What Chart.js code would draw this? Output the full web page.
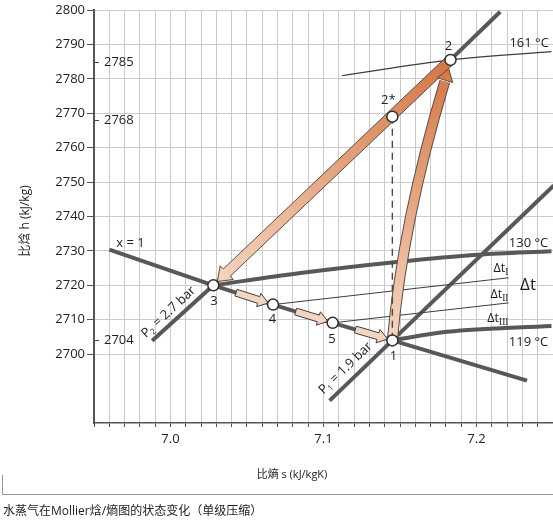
<!DOCTYPE html>
<html>
<head>
<meta charset="utf-8">
<script src="https://cdn.jsdelivr.net/npm/chart.js@4.4.1/dist/chart.umd.min.js"></script>
<style>
  html, body { margin: 0; padding: 0; background: #fff; }
  body { width: 553px; height: 524px; position: relative; overflow: hidden;
         font-family: "Open Sans", "Noto Sans CJK SC", sans-serif; }
  #wrap { position: absolute; left: 0; top: 0; width: 553px; height: 490px; }
  #frame { position: absolute; left: 2px; top: 475px; width: 551px; height: 19px;
           border-left: 1px solid #9a9a9a; border-bottom: 1px solid #9a9a9a; }
  #caption { position: absolute; left: 3px; top: 503px; font-size: 12px; line-height: 16px;
             color: #222; white-space: nowrap; }
</style>
</head>
<body>
<div id="wrap"><canvas id="c" width="553" height="490"></canvas></div>
<div id="frame"></div>
<div id="caption">水蒸气在Mollier焓/熵图的状态变化（单级压缩）</div>
<script>
// state points: entropy s (kJ/kgK), enthalpy h (kJ/kg)
const pointNames = ['1', '2', '2*', '3', '4', '5'];
const pointS = [7.145, 7.183, 7.145, 7.028, 7.067, 7.106];
const pointH = [2704, 2785.5, 2769, 2720, 2714.4, 2709.1];

// saturated vapour line x = 1
const satS = [6.96, 7.028, 7.067, 7.106, 7.145, 7.233];
const satH = [2730.4, 2720, 2714.4, 2709.1, 2704, 2692.3];

// isobars
const p2S = [6.988, 7.028, 7.183, 7.2155];
const p2H = [2703.9, 2720, 2785.5, 2799.5];
const p1S = [7.104, 7.145, 7.2505];
const p1H = [2686.5, 2704, 2749];

// isotherms
const t130S = [7.028, 7.085, 7.148, 7.201, 7.249];
const t130H = [2720, 2723.6, 2726.8, 2728.9, 2729.9];
const t119S = [7.145, 7.181, 7.249];
const t119H = [2704, 2706.5, 2708.2];
const t161S = [7.112, 7.183, 7.249];
const t161H = [2780.9, 2785.5, 2787.9];

// thin lines from points 4 and 5 (Δt)
const dt4S = [7.067, 7.221];
const dt4H = [2714.4, 2722.2];
const dt5S = [7.106, 7.221];
const dt5H = [2709.1, 2714.9];

// values marked on the h axis
const markedH = [2785, 2768, 2704];

const xTickLabels = ['7.0', '7.1', '7.2'];
const yTickLabels = ['2700', '2710', '2720', '2730', '2740', '2750', '2760', '2770', '2780', '2790', '2800'];

// free text, anchored in (s, h)
const notes = [
  { text: 'x = 1', s: 6.9739, h: 2732.2, align: 'center' },
  { text: '130 °C', s: 7.2469, h: 2732.2, align: 'right' },
  { text: '119 °C', s: 7.2469, h: 2703.4, align: 'right' },
  { text: '161 °C', s: 7.2473, h: 2790.3, align: 'right' }
];
const dtNotes = [
  { sub: 'I', s: 7.2209, h: 2724.8 },
  { sub: 'II', s: 7.2209, h: 2717.4 },
  { sub: 'III', s: 7.2209, h: 2710.3 }
];
const isobarNotes = [
  { sub: '2', rest: ' = 2.7 bar', s: 6.9987, h: 2712.2, angle: -43 },
  { sub: '1', rest: ' = 1.9 bar', s: 7.1144, h: 2695.9, angle: -44 }
];

const FONT = '"Open Sans", "Noto Sans CJK SC", sans-serif';
const DARK = '#585858';

function xy(sArr, hArr) {
  return sArr.map((s, i) => ({ x: s, y: hArr[i] }));
}

function line(sArr, hArr, w, color, smooth) {
  return {
    data: xy(sArr, hArr), showLine: true, pointRadius: 0,
    borderColor: color, borderWidth: w,
    tension: smooth ? 0.4 : 0, cubicInterpolationMode: smooth ? 'monotone' : 'default',
    borderCapStyle: 'butt'
  };
}

function P(chart, i) {
  return [chart.scales.x.getPixelForValue(pointS[i]), chart.scales.y.getPixelForValue(pointH[i])];
}

function blockArrow(ctx, x0, y0, x1, y1, shaftW, headW, headL, fill, stroke) {
  const dx = x1 - x0, dy = y1 - y0, len = Math.hypot(dx, dy);
  const ux = dx / len, uy = dy / len, nx = -uy, ny = ux;
  const bx = x1 - ux * headL, by = y1 - uy * headL;
  ctx.beginPath();
  ctx.moveTo(x0 + nx * shaftW / 2, y0 + ny * shaftW / 2);
  ctx.lineTo(bx + nx * shaftW / 2, by + ny * shaftW / 2);
  ctx.lineTo(bx + nx * headW / 2, by + ny * headW / 2);
  ctx.lineTo(x1, y1);
  ctx.lineTo(bx - nx * headW / 2, by - ny * headW / 2);
  ctx.lineTo(bx - nx * shaftW / 2, by - ny * shaftW / 2);
  ctx.lineTo(x0 - nx * shaftW / 2, y0 - ny * shaftW / 2);
  ctx.closePath();
  ctx.fillStyle = fill;
  ctx.fill();
  ctx.lineWidth = 1;
  ctx.strokeStyle = stroke;
  ctx.stroke();
}

function drawArrows(chart) {
  const ctx = chart.ctx;
  const p1 = P(chart, 0), p2 = P(chart, 1), p3 = P(chart, 3), p4 = P(chart, 4), p5 = P(chart, 5);
  const outline = '#5b4b43';
  ctx.save();

  // 2 -> 3 along the isobar
  let dx = p2[0] - p3[0], dy = p2[1] - p3[1], len = Math.hypot(dx, dy);
  const tip3 = [p3[0] + dx / len * 5.5, p3[1] + dy / len * 5.5];
  let g = ctx.createLinearGradient(p3[0], p3[1], p2[0], p2[1]);
  g.addColorStop(0, '#f5d6c1');
  g.addColorStop(1, '#d27644');
  blockArrow(ctx, p2[0], p2[1], tip3[0], tip3[1], 10, 19, 13, g, outline);

  // 1 -> 2 curved compression arrow
  dx = p2[0] - p1[0]; dy = p2[1] - p1[1]; len = Math.hypot(dx, dy);
  const ux = dx / len, uy = dy / len, nx = -uy, ny = ux;
  const tip = [p2[0] - ux * 9, p2[1] - uy * 9];
  const cl = Math.hypot(tip[0] - p1[0], tip[1] - p1[1]);
  const c = [p1[0] + (tip[0] - p1[0]) * 0.445 - nx * 14.6, p1[1] + (tip[1] - p1[1]) * 0.445 - ny * 14.6];
  const headL = 12, headW = 16, shaftW = 9;
  const te = 1 - headL / cl;
  const sc = [p1[0] + te * (c[0] - p1[0]), p1[1] + te * (c[1] - p1[1])];
  const se = [
    (1 - te) * (1 - te) * p1[0] + 2 * te * (1 - te) * c[0] + te * te * tip[0],
    (1 - te) * (1 - te) * p1[1] + 2 * te * (1 - te) * c[1] + te * te * tip[1]
  ];
  g = ctx.createLinearGradient(p1[0], p1[1], p2[0], p2[1]);
  g.addColorStop(0, '#f5d6c1');
  g.addColorStop(1, '#d27644');
  ctx.lineCap = 'butt';
  ctx.beginPath();
  ctx.moveTo(p1[0], p1[1]);
  ctx.quadraticCurveTo(sc[0], sc[1], se[0], se[1]);
  ctx.strokeStyle = outline;
  ctx.lineWidth = shaftW + 2;
  ctx.stroke();
  ctx.strokeStyle = g;
  ctx.lineWidth = shaftW;
  ctx.stroke();
  let hx = tip[0] - c[0], hy = tip[1] - c[1], hl = Math.hypot(hx, hy);
  hx /= hl; hy /= hl;
  const bx = tip[0] - hx * headL, by = tip[1] - hy * headL;
  ctx.beginPath();
  ctx.moveTo(bx - hy * headW / 2, by + hx * headW / 2);
  ctx.lineTo(tip[0], tip[1]);
  ctx.lineTo(bx + hy * headW / 2, by - hx * headW / 2);
  ctx.closePath();
  ctx.fillStyle = g;
  ctx.fill();
  ctx.lineWidth = 1;
  ctx.strokeStyle = outline;
  ctx.stroke();

  // small arrows 3 -> 4 -> 5 -> 1
  [[p3, p4], [p4, p5], [p5, p1]].forEach(([a, b]) => {
    const x0 = a[0] + (b[0] - a[0]) * 0.38, y0 = a[1] + (b[1] - a[1]) * 0.38;
    const x1 = a[0] + (b[0] - a[0]) * 0.92, y1 = a[1] + (b[1] - a[1]) * 0.92;
    blockArrow(ctx, x0, y0, x1, y1, 7, 14, 10, '#f4d5c1', '#3f3f3f');
  });
  ctx.restore();
}

function richText(ctx, parts, x, y, align) {
  let total = 0;
  parts.forEach(p => { ctx.font = p.font; p.w = ctx.measureText(p.t).width; total += p.w; });
  let cx = align === 'right' ? x - total : (align === 'left' ? x : x - total / 2);
  ctx.textAlign = 'left';
  parts.forEach(p => { ctx.font = p.font; ctx.fillText(p.t, cx, y + (p.dy || 0)); cx += p.w; });
}

function drawTexts(chart) {
  const ctx = chart.ctx, xs = chart.scales.x, ys = chart.scales.y;
  const f13 = '13px ' + FONT;
  ctx.save();
  ctx.fillStyle = '#1e1e1e';
  ctx.textBaseline = 'middle';

  // point labels
  const offs = { '1': [1, 16], '2': [-2, -14], '2*': [-4, -16], '3': [0.6, 16], '4': [-0.6, 15], '5': [-0.6, 16] };
  ctx.font = f13;
  ctx.textAlign = 'center';
  pointNames.forEach((n, i) => {
    const p = P(chart, i);
    ctx.fillText(n, p[0] + offs[n][0], p[1] + offs[n][1]);
  });

  // notes
  notes.forEach(n => {
    ctx.textAlign = n.align;
    ctx.fillText(n.text, xs.getPixelForValue(n.s), ys.getPixelForValue(n.h));
  });

  // Δt labels
  dtNotes.forEach(n => {
    richText(ctx, [
      { t: 'Δt', font: '12.5px ' + FONT },
      { t: n.sub, font: '9.5px "Liberation Serif", serif', dy: 4 }
    ], xs.getPixelForValue(n.s), ys.getPixelForValue(n.h), 'right');
  });
  ctx.font = '17px ' + FONT;
  ctx.textAlign = 'center';
  ctx.fillText('Δt', xs.getPixelForValue(7.2337), ys.getPixelForValue(2720));

  // isobar labels
  isobarNotes.forEach(n => {
    ctx.save();
    ctx.translate(xs.getPixelForValue(n.s), ys.getPixelForValue(n.h));
    ctx.rotate(n.angle * Math.PI / 180);
    richText(ctx, [
      { t: 'P', font: f13 },
      { t: n.sub, font: '8px ' + FONT, dy: 4 },
      { t: n.rest, font: f13 }
    ], 0, 0, 'center');
    ctx.restore();
  });

  // marked h values next to the axis
  ctx.strokeStyle = '#444';
  ctx.lineWidth = 1;
  ctx.font = f13;
  ctx.textAlign = 'left';
  markedH.forEach(h => {
    const y = Math.round(ys.getPixelForValue(h)) + 0.5;
    ctx.beginPath();
    ctx.moveTo(95, y);
    ctx.lineTo(99, y);
    ctx.stroke();
    ctx.fillText(String(h), 104, y);
  });

  // axis titles
  ctx.font = '11px ' + FONT;
  ctx.textAlign = 'center';
  ctx.fillStyle = '#222';
  ctx.fillText('比熵 s (kJ/kgK)', 292, 475);
  ctx.save();
  ctx.translate(26, 221);
  ctx.rotate(-Math.PI / 2);
  ctx.font = '12px ' + FONT;
  ctx.fillText('比焓 h (kJ/kg)', 0, 0);
  ctx.restore();
  ctx.restore();
}

const overlay = {
  id: 'overlay',
  beforeDatasetDraw(chart, args) {
    if (args.index === 1) drawArrows(chart);
  },
  afterDraw(chart) {
    drawTexts(chart);
  }
};

const tickFont = { family: FONT, size: 13 };

new Chart(document.getElementById('c'), {
  type: 'scatter',
  data: {
    datasets: [
      {
        data: xy(pointS, pointH), showLine: false, pointRadius: 5.5,
        pointBackgroundColor: '#fff', pointBorderColor: '#2d2d2d', pointBorderWidth: 1.5
      },
      {
        data: [{ x: pointS[2], y: pointH[2] }, { x: pointS[0], y: pointH[0] }],
        showLine: true, pointRadius: 0, borderColor: '#4a4a4a', borderWidth: 1.4, borderDash: [7, 5]
      },
      line(t161S, t161H, 1.2, '#3d3d3d', true),
      line(dt4S, dt4H, 1, '#3d3d3d'),
      line(dt5S, dt5H, 1, '#3d3d3d'),
      line(satS, satH, 4, DARK),
      line(p2S, p2H, 4, DARK),
      line(p1S, p1H, 4, DARK),
      line(t130S, t130H, 4, DARK, true),
      line(t119S, t119H, 4, DARK, true)
    ]
  },
  options: {
    responsive: false,
    animation: false,
    events: [],
    layout: { autoPadding: false, padding: { top: 10, left: 0, right: 0, bottom: 0 } },
    plugins: { legend: { display: false }, tooltip: { enabled: false } },
    scales: {
      x: {
        type: 'linear', min: 6.95, max: 7.25,
        afterFit(s) { s.height = 67; s.paddingLeft = 0; s.paddingRight = 0; },
        ticks: {
          stepSize: 0.01, autoSkip: false, maxRotation: 0, minRotation: 0, padding: 4,
          color: '#222', font: tickFont,
          callback(v) {
            const t = (Math.round(v * 100) / 100).toFixed(1);
            return Math.abs(v * 10 - Math.round(v * 10)) < 1e-6 && xTickLabels.includes(t) ? t : '';
          }
        },
        grid: { color: '#cbcbcb', lineWidth: 1, tickLength: 4, tickColor: '#555' },
        border: { color: '#555', width: 1.5 }
      },
      y: {
        type: 'linear', min: 2680, max: 2800,
        afterFit(s) { s.width = 94; s.paddingTop = 0; s.paddingBottom = 0; },
        ticks: {
          stepSize: 10, padding: 2, color: '#222', font: tickFont,
          callback(v) { return yTickLabels.includes(String(v)) ? String(v) : ''; }
        },
        grid: {
          color: c => (c.tick && c.tick.value >= 2700 ? '#cbcbcb' : 'rgba(0,0,0,0)'),
          tickColor: c => (c.tick && c.tick.value >= 2700 ? '#555' : 'rgba(0,0,0,0)'),
          tickLength: 7
        },
        border: { color: '#555', width: 2 }
      }
    }
  },
  plugins: [overlay]
});
</script>
</body>
</html>
